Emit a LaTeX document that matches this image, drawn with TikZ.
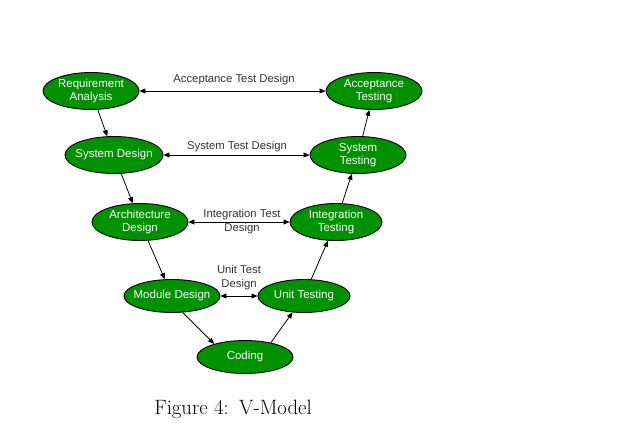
\documentclass[tikz,border=0pt]{standalone}
\usepackage{fontspec}
\newfontfamily\arialfont{Liberation Sans}
\usetikzlibrary{shapes.geometric,arrows.meta}
\definecolor{vgreen}{RGB}{0,145,0}
\tikzset{
  phase/.style={ellipse, draw=black, line width=0.9pt, fill=vgreen, text=white,
    font=\arialfont\fontsize{11.5}{13.5}\selectfont, align=center, inner sep=0pt,
    minimum width=96pt, minimum height=37pt},
  lbl/.style={text=black!80, font=\arialfont\fontsize{11.3}{14}\selectfont,
    align=center, inner sep=0pt},
  tip/.tip={Triangle[length=6pt,width=5pt]},
  flow/.style={-tip, line width=0.8pt},
  both/.style={tip-tip, line width=0.8pt}
}
\begin{document}
\begin{tikzpicture}[x=1pt,y=-1pt]
      \useasboundingbox (0,0) rectangle (635,437);
      \draw
        (91,91) node[phase] (ra){Requirement\\Analysis}
        (374,91) node[phase] (at){Acceptance\\Testing}
        (114,155) node[phase, inner xsep=-4pt] (sd){System Design}
        (358,155) node[phase] (st){System\\Testing}
        (140,222) node[phase] (ad){Architecture\\Design}
        (336,222) node[phase, minimum width=92pt] (it){Integration\\Testing}
        (172,296) node[phase, inner xsep=-6pt, minimum height=33pt] (md){Module Design}
        (304,296) node[phase, minimum width=92pt, minimum height=33pt] (ut){Unit Testing}
        (245,357) node[phase, minimum height=33pt] (co){Coding};
      \draw
        (234,80) node[lbl] (atd){Acceptance Test Design}
        (237,147) node[lbl] (std){System Test Design}
        (242,222) node[lbl] (itd){Integration Test\\Design}
        (239,278) node[lbl] (utd){Unit Test\\Design}
        (233,409) node[font=\huge] (cap){Figure 4:\hspace{0.5em}V-Model};
      \begin{scope}[flow]
        \draw (ra) to (sd);
        \draw (sd) to (ad);
        \draw (ad) to (md);
        \draw (md.-57) to (co.157);
        \draw (co.29) to (ut.235);
        \draw (ut) to (it);
        \draw (it) to (st);
        \draw (st) to (at);
      \end{scope}
      \begin{scope}[both]
        \draw (ra) to (at);
        \draw (sd) to (st);
        \draw (ad) to (it);
        \draw (md) to (ut);
      \end{scope}
    \end{tikzpicture}
\end{document}
